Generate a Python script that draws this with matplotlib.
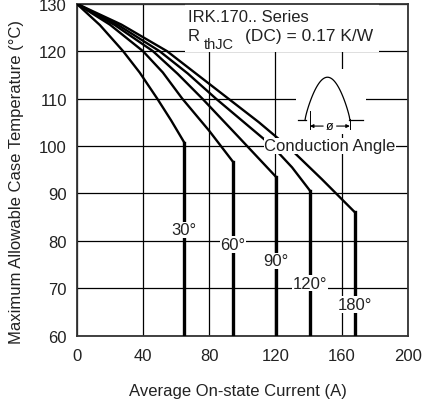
import numpy as np
import matplotlib
matplotlib.use("Agg")
import matplotlib.pyplot as plt
from matplotlib.patches import Rectangle

plt.rcParams['font.family'] = ['Liberation Sans', 'DejaVu Sans']

# Conduction angles and their derating curves (average current A, case temperature °C)
angles = ["30°", "60°", "90°", "120°", "180°"]
curve_current = [
    [0, 14, 28, 38, 48.6, 57, 65],
    [0, 20, 40, 52, 63.7, 80, 94.3],
    [0, 23, 46, 61, 75.8, 98, 120.3],
    [0, 25, 50, 67, 84, 101, 118, 130, 141],
    [0, 27, 54.5, 73, 91.5, 110, 128.7, 148, 168],
]
curve_temp = [
    [130, 125.5, 120, 115.5, 110, 105.4, 100.7],
    [130, 125.6, 120, 115.5, 110, 103.2, 96.7],
    [130, 125.5, 120, 115.2, 110, 101.8, 93.5],
    [130, 125.5, 120, 115.3, 110, 105, 100, 95.5, 90.5],
    [130, 125.6, 120, 115, 110, 105, 99.5, 93, 86],
]
label_temp = [82.3, 79.2, 75.8, 71.1, 66.6]

x_ticks = [0, 40, 80, 120, 160, 200]
y_ticks = [60, 70, 80, 90, 100, 110, 120, 130]

fig = plt.figure(figsize=(4.23, 4.06), dpi=100)
ax = fig.add_axes([0.1813, 0.1707, 0.9645 - 0.1813, 0.9884 - 0.1707])
ax.set_xlim(0, 200)
ax.set_ylim(60, 130)
ax.set_xticks(x_ticks)
ax.set_yticks(y_ticks)
ax.tick_params(length=0, labelsize=12, colors='#222222')
ax.tick_params(axis='x', pad=9)
ax.tick_params(axis='y', pad=7)
ax.grid(True, color='black', lw=0.9, zorder=1)
ax.set_axisbelow(True)
for s in ax.spines.values():
    s.set_linewidth(1.3)
    s.set_color('#333333')

# Derating curves with vertical current limits
for k in range(len(angles)):
    ax.plot(curve_current[k], curve_temp[k], color='black', lw=1.7,
            solid_capstyle='round', solid_joinstyle='round', zorder=3)
    ik = curve_current[k][-1]
    ax.plot([ik, ik], [curve_temp[k][-1], 60], color='black', lw=2.4, zorder=3)
    ax.text(ik, label_temp[k], angles[k], ha='center', va='center', fontsize=12,
            color='#222222', zorder=5,
            bbox=dict(facecolor='white', edgecolor='none', pad=0.5))

# Title block
ax.add_patch(Rectangle((65.5, 119.8), 117, 26.5, transform=ax.transData,
                       facecolor='white', edgecolor='none', zorder=2))
ax.text(67, 127.3, "IRK.170.. Series", fontsize=12, ha='left', va='center',
        color='#222222', zorder=5)
ax.text(67, 123.2, "R", fontsize=12, ha='left', va='center', color='#222222', zorder=5)
ax.text(77, 121.5, "thJC", fontsize=10.5, ha='left', va='center', color='#222222',
        zorder=5, bbox=dict(facecolor='white', edgecolor='none', pad=0.5))
ax.text(101.5, 123.2, "(DC) = 0.17 K/W", fontsize=12.5, ha='left', va='center',
        color='#222222', zorder=5)

# Conduction angle waveform icon
ax.add_patch(Rectangle((132.5, 102.6), 42, 13.7, transform=ax.transData,
                       facecolor='white', edgecolor='none', zorder=2))
t = np.linspace(0, 1, 60)
wx = 137.8 + (165 - 137.8) * t
wy = 105.4 + 9.1 * np.sin(np.pi * t) ** 0.8
ax.plot(wx, wy, color='black', lw=0.9, zorder=4)
ax.plot([133.6, 138.4], [105.4, 105.4], color='black', lw=0.9, zorder=4)
ax.plot([164.6, 172.8], [105.4, 105.4], color='black', lw=0.9, zorder=4)
ax.plot([140.8, 140.8], [103.6, 107.3], color='black', lw=0.7, zorder=4)
ax.plot([164.9, 164.9], [103.6, 105.6], color='black', lw=0.7, zorder=4)
ax.annotate("", xy=(140.8, 104.2), xytext=(148.8, 104.2),
            arrowprops=dict(arrowstyle='-|>', color='black', lw=0.8,
                            mutation_scale=5, shrinkA=0, shrinkB=0), zorder=4)
ax.annotate("", xy=(164.9, 104.2), xytext=(156.9, 104.2),
            arrowprops=dict(arrowstyle='-|>', color='black', lw=0.8,
                            mutation_scale=5, shrinkA=0, shrinkB=0), zorder=4)
ax.text(152.8, 104.3, "ø", fontsize=9, ha='center', va='center', color='black', zorder=5)
ax.text(152.9, 100.0, "Conduction Angle", fontsize=12, ha='center', va='center',
        color='#222222', zorder=5,
        bbox=dict(facecolor='white', edgecolor='none', pad=0.6))

fig.text(238 / 423, 1 - 391.7 / 406, "Average On-state Current (A)", fontsize=12,
         ha='center', va='center', color='#222222')
fig.text(16.7 / 423, 1 - 182 / 406, "Maximum Allowable Case Temperature (°C)",
         fontsize=12, ha='center', va='center', rotation=90, color='#222222')

fig.savefig("out.png", dpi=100)
